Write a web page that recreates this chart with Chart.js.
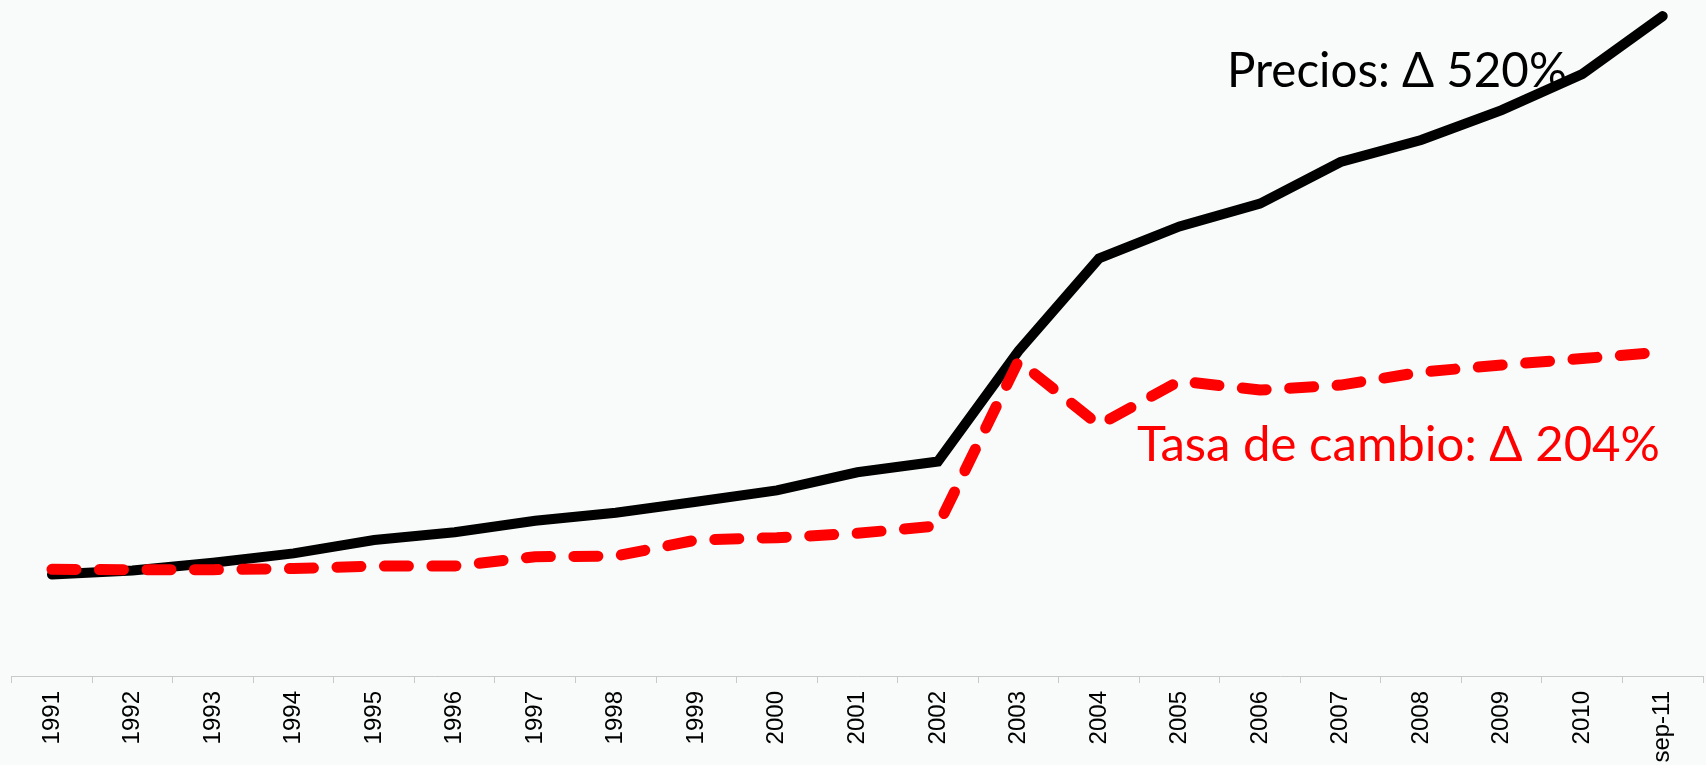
<!DOCTYPE html>
<html>
<head>
<meta charset="utf-8">
<style>
html,body{margin:0;padding:0;background:#f9fbfb;overflow:hidden;}
#wrap{position:relative;width:1706px;height:765px;}
canvas{display:block;}
</style>
<script src="https://cdn.jsdelivr.net/npm/chart.js@4.4.1/dist/chart.umd.min.js"></script>
</head>
<body>
<div id="wrap"><canvas id="c" width="1706" height="765"></canvas></div>
<script>
// ---- data (index values) ----
const categories = ['1991','1992','1993','1994','1995','1996','1997','1998','1999','2000',
  '2001','2002','2003','2004','2005','2006','2007','2008','2009','2010','sep-11'];
const precios = [100.0, 103.7, 111.0, 119.7, 132.1, 139.3, 150.1, 157.5, 167.8, 178.4,
  195.2, 205.2, 308.1, 394.4, 424.2, 445.4, 484.1, 504.6, 532.5, 566.0, 620.0];
const tasaCambio = [104.8, 104.5, 104.5, 105.6, 107.9, 107.9, 116.6, 117.2, 132.1, 134.3,
  138.4, 145.2, 298.8, 239.2, 280.2, 271.8, 276.4, 288.5, 295.1, 301.1, 307.2];
const annotationTexts = ['Precios: \u0394 520%', 'Tasa de cambio: \u0394 204%'];

const annotPlugin = {
  id: 'annot',
  beforeDatasetsDraw(chart) {
    const ctx = chart.ctx;
    const fam = 'Lato, "Noto Sans", sans-serif';
    function draw(text, color, left, baseline, width) {
      ctx.font = '100px ' + fam;
      const w = ctx.measureText(text).width;
      const size = 100 * width / w;
      ctx.font = size.toFixed(2) + 'px ' + fam;
      ctx.fillStyle = color;
      ctx.textAlign = 'left';
      ctx.textBaseline = 'alphabetic';
      ctx.fillText(text, left, baseline);
    }
    ctx.save();
    draw(annotationTexts[0], '#000000', 1227, 87, 340);
    draw(annotationTexts[1], '#ff0000', 1137, 461, 523);
    ctx.restore();
  }
};

new Chart(document.getElementById('c'), {
  type: 'line',
  data: {
    labels: categories,
    datasets: [
      {
        label: 'Precios',
        data: precios,
        borderColor: '#000000',
        borderWidth: 10,
        borderCapStyle: 'round',
        borderJoinStyle: 'miter',
        pointRadius: 0,
        tension: 0,
        fill: false,
        order: 2
      },
      {
        label: 'Tasa de cambio',
        data: tasaCambio,
        borderColor: '#ff0000',
        borderWidth: 11,
        borderDash: [24, 23.5],
        borderCapStyle: 'round',
        borderJoinStyle: 'round',
        pointRadius: 0,
        tension: 0,
        fill: false,
        order: 1
      }
    ]
  },
  options: {
    responsive: false,
    animation: false,
    events: [],
    layout: { padding: { left: 11.7, right: 3, top: 0, bottom: 0 } },
    plugins: { legend: { display: false }, tooltip: { enabled: false }, title: { display: false } },
    scales: {
      x: {
        type: 'category',
        offset: true,
        grid: {
          offset: true,
          drawOnChartArea: false,
          drawTicks: true,
          tickLength: 7,
          color: '#c9c9c9',
          lineWidth: 1
        },
        border: { display: true, color: '#c9c9c9', width: 1 },
        ticks: {
          autoSkip: false,
          minRotation: 90,
          maxRotation: 90,
          padding: 8,
          color: '#000000',
          font: { family: '"Liberation Sans", Arial, sans-serif', size: 24 }
        },
        afterFit(scale) { scale.height = 89; }
      },
      y: {
        display: false,
        min: 5.5,
        max: 635
      }
    }
  },
  plugins: [annotPlugin]
});
</script>
</body>
</html>
